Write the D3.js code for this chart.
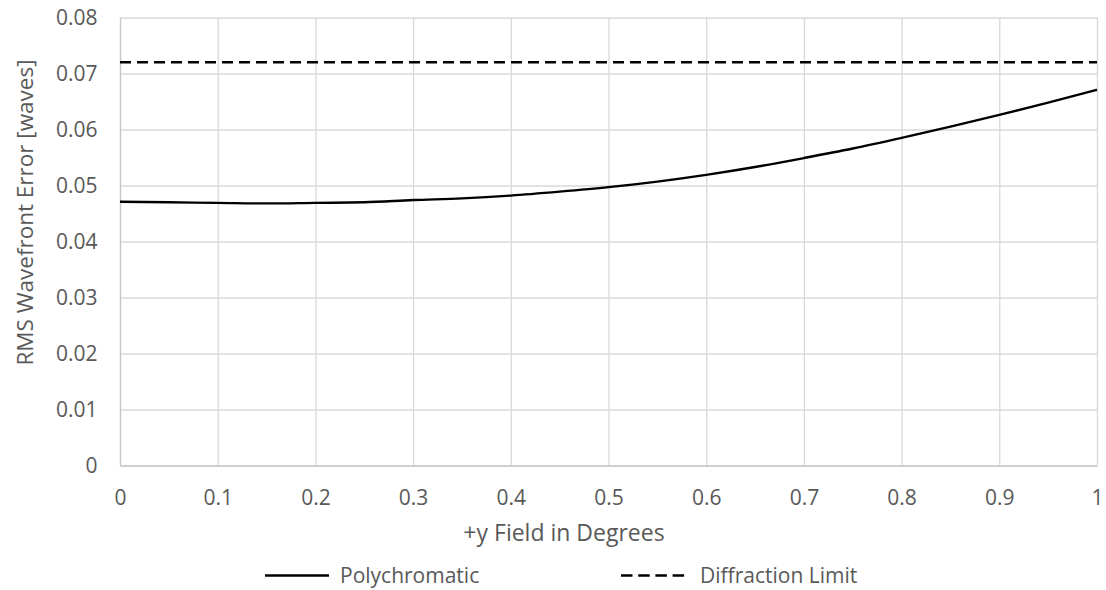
<!DOCTYPE html>
<html>
<head>
	<meta charset="utf-8">
	<title>RMS Wavefront Error</title>
	<script src="https://cdn.jsdelivr.net/npm/d3@7"></script>
	<style type="text/css">
		body { margin: 0; background: #fff; }
		text { font-family: "Open Sans", sans-serif; fill: #595959; }
	</style>
</head>
<body>
	<script type="text/javascript">
		// Data
		var fieldDeg = [0, 0.05, 0.1, 0.15, 0.2, 0.25, 0.3, 0.35, 0.4, 0.45, 0.5,
		                0.55, 0.6, 0.65, 0.7, 0.75, 0.8, 0.85, 0.9, 0.95, 1];
		var polyRms = [0.0471, 0.0470, 0.0469, 0.0468, 0.0469, 0.0470, 0.0474, 0.0477, 0.0482, 0.0489, 0.0497,
		               0.0507, 0.0519, 0.0533, 0.0549, 0.0566, 0.0585, 0.0605, 0.0626, 0.0648, 0.0671];
		var diffField = [0, 1];
		var diffLimit = [0.072, 0.072];
		var xTicks = [0, 0.1, 0.2, 0.3, 0.4, 0.5, 0.6, 0.7, 0.8, 0.9, 1];
		var yTicks = [0, 0.01, 0.02, 0.03, 0.04, 0.05, 0.06, 0.07, 0.08];
		var seriesNames = ["Polychromatic", "Diffraction Limit"];

		var width = 1106;
		var height = 590;
		var margin = {top: 17.5, right: 9, bottom: 124.5, left: 120};

		var svg = d3.select("body").append("svg")
					.attr("width", width)
					.attr("height", height);

		var xScale = d3.scaleLinear()
					   .domain([0, 1])
					   .range([margin.left, width - margin.right]);
		var yScale = d3.scaleLinear()
					   .domain([0, 0.08])
					   .range([height - margin.bottom, margin.top]);

		// gridlines
		svg.append("g")
		   .attr("transform", "translate(0," + (height - margin.bottom) + ")")
		   .call(d3.axisBottom(xScale).tickValues(xTicks)
		   		.tickSize(-(height - margin.top - margin.bottom)).tickFormat(""))
		   .call(function(g) {
		   	 g.select(".domain").remove();
		   	 g.selectAll("line").attr("stroke", "#d9d9d9").attr("stroke-width", 1.3);
		   });
		svg.append("g")
		   .attr("transform", "translate(" + margin.left + ",0)")
		   .call(d3.axisLeft(yScale).tickValues(yTicks)
		   		.tickSize(-(width - margin.left - margin.right)).tickFormat(""))
		   .call(function(g) {
		   	 g.select(".domain").remove();
		   	 g.selectAll("line").attr("stroke", "#d9d9d9").attr("stroke-width", 1.3);
		   });

		// axes lines + labels
		svg.append("g")
		   .attr("transform", "translate(0," + (height - margin.bottom) + ")")
		   .call(d3.axisBottom(xScale).tickValues(xTicks).tickSize(0).tickPadding(24.5)
		   		.tickFormat(d3.format("~g")))
		   .call(function(g) {
		   	 g.select(".domain").attr("stroke", "#c8c8c8").attr("stroke-width", 1.3);
		   	 g.selectAll("text").attr("font-size", 21).attr("font-family", null);
		   });
		svg.append("g")
		   .attr("transform", "translate(" + margin.left + ",0)")
		   .call(d3.axisLeft(yScale).tickValues(yTicks).tickSize(0).tickPadding(22.5)
		   		.tickFormat(d3.format("~g")))
		   .call(function(g) {
		   	 g.select(".domain").attr("stroke", "#c8c8c8").attr("stroke-width", 1.3);
		   	 g.selectAll("text").attr("font-size", 21).attr("font-family", null);
		   });

		// axis titles
		svg.append("text")
		   .attr("x", 564)
		   .attr("y", 541)
		   .attr("text-anchor", "middle")
		   .attr("font-size", 23)
		   .text("+y Field in Degrees");
		svg.append("text")
		   .attr("transform", "translate(33,212.5) rotate(-90)")
		   .attr("text-anchor", "middle")
		   .attr("font-size", 22.5)
		   .text("RMS Wavefront Error [waves]");

		// series
		var line = d3.line()
					 .x(function(d) { return xScale(d[0]); })
					 .y(function(d) { return yScale(d[1]); });

		svg.append("path")
		   .datum(d3.zip(diffField, diffLimit))
		   .attr("d", line)
		   .attr("fill", "none")
		   .attr("stroke", "#000")
		   .attr("stroke-width", 2.4)
		   .attr("stroke-dasharray", "11,6");

		svg.append("path")
		   .datum(d3.zip(fieldDeg, polyRms))
		   .attr("d", line.curve(d3.curveMonotoneX))
		   .attr("fill", "none")
		   .attr("stroke", "#000")
		   .attr("stroke-width", 2.4);

		// legend
		var legendX = [265, 621];
		var legend = svg.selectAll(".legend")
						.data(seriesNames)
						.enter()
						.append("g")
						  .attr("class", "legend")
						  .attr("transform", function(d, i) { return "translate(" + legendX[i] + ",575.5)"; });
		legend.append("line")
			  .attr("x1", 0).attr("x2", function(d, i) { return i == 1 ? 68 : 64; })
			  .attr("stroke", "#000")
			  .attr("stroke-width", 2.4)
			  .attr("stroke-dasharray", function(d, i) { return i == 1 ? "11.5,5.7" : null; });
		legend.append("text")
			  .attr("x", function(d, i) { return i == 1 ? 79 : 75; })
			  .attr("dy", "0.35em")
			  .attr("font-size", 21)
			  .text(function(d) { return d; });
	</script>
</body>
</html>
